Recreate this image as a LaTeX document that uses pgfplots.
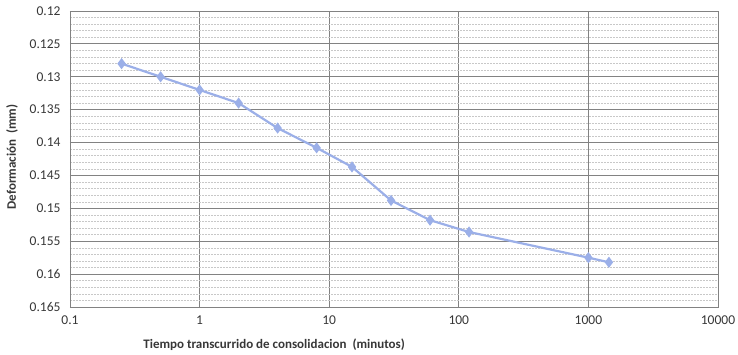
\documentclass[border=0pt]{standalone}
\usepackage{fontspec}
\setmainfont{Carlito}
\usepackage{pgfplots}
\pgfplotsset{compat=1.18}
\definecolor{serie}{RGB}{155,175,232}
\definecolor{majgrid}{RGB}{130,130,130}
\definecolor{mingrid}{RGB}{200,200,200}
\definecolor{txt}{RGB}{55,55,55}
\begin{document}
\begin{tikzpicture}
\begin{axis}[
  scale only axis, width=648pt, height=296pt,
  xmode=log, log basis x=10, xmin=0.1, xmax=10000,
  ymin=0.12, ymax=0.165, y dir=reverse,
  xtick={0.1,1,10,100,1000,10000},
  xticklabels={0.1,1,10,100,1000,10000},
  ytick={0.12,0.125,0.13,0.135,0.14,0.145,0.15,0.155,0.16,0.165},
  yticklabels={0.12,0.125,0.13,0.135,0.14,0.145,0.15,0.155,0.16,0.165},
  minor y tick num=4,
  grid=both,
  major grid style={majgrid, line width=0.8pt},
  minor grid style={mingrid, dash pattern=on 2pt off 1pt, line width=0.5pt},
  axis line style={majgrid, line width=0.8pt},
  tick style={draw=none},
  ticklabel style={font=\fontsize{13.5}{15}\selectfont, text=txt},
  /pgf/number format/assume math mode=true,
  xticklabel style={yshift=-5pt},
  yticklabel style={xshift=-6pt},
  xlabel={Tiempo transcurrido de consolidacion\ \ (minutos)},
  ylabel={Deformación\ \ (mm)},
  xlabel style={font=\bfseries\fontsize{13}{15}\selectfont, text=txt,
    at={(axis description cs:0.315,0)}, anchor=center, yshift=-38pt},
  ylabel style={font=\bfseries\fontsize{13}{15}\selectfont, text=txt,
    at={(axis description cs:-0.0895,0.507)}, anchor=center, rotate=0},
]
\addplot[serie, line width=2.2pt, mark=diamond*, mark size=3.8pt,
  mark options={fill=serie, draw=serie}] coordinates {
  (0.25,0.128)
  (0.5,0.130)
  (1,0.132)
  (2,0.134)
  (4,0.1378)
  (8,0.1408)
  (15,0.1437)
  (30,0.1488)
  (60,0.1518)
  (120,0.1536)
  (1000,0.1575)
  (1440,0.1582)
};
\coordinate (bl) at (axis description cs:0,0);
\coordinate (tr) at (axis description cs:1,1);
\end{axis}
\pgfresetboundingbox
\path ([shift={(-70pt,-47pt)}]bl) rectangle ([shift={(20pt,11pt)}]tr);
\end{tikzpicture}
\end{document}
